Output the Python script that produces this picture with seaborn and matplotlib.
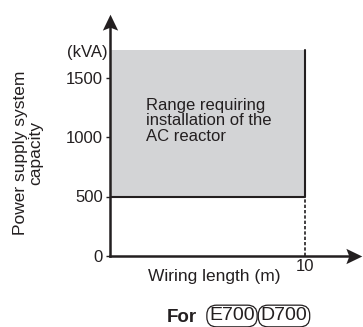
import matplotlib
matplotlib.use("Agg")
import matplotlib.pyplot as plt
from matplotlib.path import Path
import numpy as np
import pandas as pd
import seaborn as sns

# dati del grafico
soglia_kva = 500          # capacita' oltre la quale serve il reattore
lunghezza_max = 10        # lunghezza cablaggio (m)
capacita_top = 1730       # limite superiore dell'area grigia
yticks = [0, 500, 1000, 1500]
xticks = [10]
modelli = ["E700", "D700"]

sns.set_style("white")
plt.rcParams['font.family'] = ['Liberation Sans', 'DejaVu Sans']

W, H = 363, 327
fig = plt.figure(figsize=(W / 100, H / 100), dpi=100)
# asse: origine a (110, 256) px, x=10 a 305 px, 500 kVA ogni 59.5 px
ax = fig.add_axes([110 / W, (H - 256) / H, 240 / W, 230 / H])
ax.set_xlim(0, 240 / 19.5)
ax.set_ylim(0, 230 / (59.5 / 500))

col = "#231f20"

# area grigia
ax.fill_between([0, lunghezza_max], soglia_kva, capacita_top, color="#d3d4d6", lw=0)

# linee di confine
bordo = pd.DataFrame({"x": [0, lunghezza_max, lunghezza_max],
                      "y": [soglia_kva, soglia_kva, capacita_top]})
sns.lineplot(data=bordo, x="x", y="y", sort=False, estimator=None,
             color=col, lw=1.5, ax=ax)
tratt = pd.DataFrame({"x": [lunghezza_max, lunghezza_max], "y": [0, soglia_kva]})
sns.lineplot(data=tratt, x="x", y="y", sort=False, estimator=None,
             color=col, lw=1.2, ls=(0, (2, 1.2)), ax=ax)

# assi con frecce
for s in ["top", "right"]:
    ax.spines[s].set_visible(False)
for s in ["left", "bottom"]:
    ax.spines[s].set_linewidth(1.8)
    ax.spines[s].set_color(col)
    ax.spines[s].set_zorder(5)

su = Path([(0, 1), (-0.65, -0.35), (0, -0.1), (0.65, -0.35), (0, 1)],
          [Path.MOVETO, Path.LINETO, Path.LINETO, Path.LINETO, Path.CLOSEPOLY])
dx = Path([(1, 0), (-0.35, 0.65), (-0.1, 0), (-0.35, -0.65), (1, 0)],
          [Path.MOVETO, Path.LINETO, Path.LINETO, Path.LINETO, Path.CLOSEPOLY])
ax.plot(0, 1, marker=su, ms=17, color=col, mew=0, transform=ax.transAxes, clip_on=False, zorder=6)
ax.plot(1, 0, marker=dx, ms=17, color=col, mew=0, transform=ax.transAxes, clip_on=False, zorder=6)

ax.set_yticks(yticks)
ax.set_xticks(xticks)
ax.tick_params(axis="y", length=3, width=1, direction="out", left=True,
               labelsize=12, colors=col, pad=2)
ax.tick_params(axis="x", length=0, labelsize=12, colors=col, pad=2)
ax.set_xlabel("")
ax.set_ylabel("")

fig.text(108 / W, 1 - 53 / H, "(kVA)", ha="right", va="center", fontsize=12, color=col)
fig.text(146 / W, 1 - 121 / H, "Range requiring\ninstallation of the\nAC reactor",
         ha="left", va="center", fontsize=12, color=col, linespacing=1.08)

fig.text(214 / W, 1 - 277 / H, "Wiring length (m)", ha="center", va="center",
         fontsize=12.5, color=col)
fig.text(28 / W, 1 - 153 / H, "Power supply system\ncapacity", ha="center", va="center",
         rotation=90, fontsize=12.5, color=col, linespacing=1.05)

fig.text(182 / W, 1 - 317 / H, "For", ha="center", va="center",
         fontsize=13.5, fontweight="bold", color=col)
box = dict(boxstyle="round,pad=0.12,rounding_size=0.5", fc="white", ec=col, lw=0.9)
for xc, m in zip([232, 284], modelli):
    fig.text(xc / W, 1 - 316 / H, m, ha="center", va="center",
             fontsize=14, color=col, bbox=box,
             family=['Liberation Sans Narrow', 'Liberation Sans'])

fig.savefig("out.png", dpi=100)
